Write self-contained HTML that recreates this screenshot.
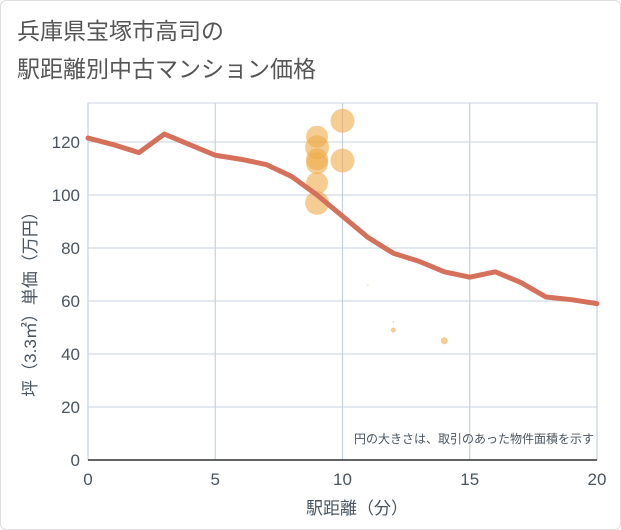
<!DOCTYPE html>
<html><head><meta charset="utf-8"><style>
body{margin:0;background:#fff;font-family:"Liberation Sans","Noto Sans CJK JP",sans-serif;}
.wrap{position:relative;width:619px;height:528px;border:1px solid #ddd;border-radius:6px;background:#fff;}
</style></head><body>
<div class="wrap">
<svg width="621" height="530" style="position:absolute;left:-1px;top:-1px">
<text x="17" y="39" font-size="23" fill="#555" font-family="Liberation Sans,Noto Sans CJK JP,sans-serif">兵庫県宝塚市高司の</text>
<text x="17" y="77" font-size="23" fill="#555" font-family="Liberation Sans,Noto Sans CJK JP,sans-serif">駅距離別中古マンション価格</text>
<g id="grid"></g>
<g id="marks"></g>
<text x="594" y="443" font-size="12" fill="#4a5560" text-anchor="end" font-family="Liberation Sans,Noto Sans CJK JP,sans-serif">円の大きさは、取引のあった物件面積を示す</text>
<text x="357" y="514" font-size="17" fill="#4a5560" text-anchor="middle" font-family="Liberation Sans,Noto Sans CJK JP,sans-serif">駅距離（分）</text>
<text transform="translate(36,300) rotate(-90)" font-size="17" fill="#4a5560" text-anchor="middle" font-family="Liberation Sans,Noto Sans CJK JP,sans-serif">坪（3.3㎡）単価（万円）</text>
</svg>
</div>
<script>
const xTicks=[0,5,10,15,20];
const yTicks=[0,20,40,60,80,100,120];
const lineX=[0,1,2,3,4,5,6,7,8,9,10,11,12,13,14,15,16,17,18,19,20];
const lineY=[121.5,119,116,123,119,115,113.5,111.5,107,100,92,84,78,75,71,69,71,67,61.5,60.5,59];
const bubX=[9,9,9,9,9,9,10,10,11,12,12,14];
const bubY=[97,104.5,112,113.5,118,122,113,128,66,52,49,45];
const bubR=[12,11,11,11,12,11,12,12,0.6,0.8,2.5,3.5];
const X0=88,X1=597,Y0=460,YT=103;
const sx=v=>X0+(v-0)/20*(X1-X0);
const sy=v=>Y0-v/120*(Y0-142);
const NS="http://www.w3.org/2000/svg";
const grid=document.getElementById('grid'),marks=document.getElementById('marks');
function mk(t,a,p){const e=document.createElementNS(NS,t);for(const k in a)e.setAttribute(k,a[k]);p.appendChild(e);return e;}
const frame=mk('rect',{x:X0,y:YT,width:X1-X0,height:Y0-YT,fill:'none',stroke:'#ccd6e0'},grid);


yTicks.forEach(v=>{const l=mk('line',{x1:X0,x2:X1,y1:sy(v),y2:sy(v),stroke:'#d3dce6','stroke-width':1.2},grid);


const t=mk('text',{x:X0-8,y:sy(v)+6,'text-anchor':'end','font-size':17,fill:'#4a5560'},grid);t.textContent=v;

});
xTicks.forEach(v=>{const l=mk('line',{x1:sx(v),x2:sx(v),y1:YT,y2:Y0,stroke:'#c5d2e0','stroke-width':1.2},grid);


const t=mk('text',{x:sx(v),y:Y0+25,'text-anchor':'middle','font-size':17,fill:'#4a5560'},grid);t.textContent=v;

});
const ax=mk('line',{x1:X0,x2:X1,y1:Y0,y2:Y0,stroke:'#333','stroke-width':1.5},grid);


bubX.forEach((v,i)=>{const c=mk('circle',{cx:sx(v),cy:sy(bubY[i]),r:bubR[i],fill:'#eeac4a','fill-opacity':0.6},marks);

});
const pl=mk('polyline',{points:lineX.map((v,i)=>sx(v)+','+sy(lineY[i])).join(' '),fill:'none',stroke:'#d5705a','stroke-width':5,'stroke-linejoin':'round','stroke-linecap':'round'},marks);


</script>
</body></html>
